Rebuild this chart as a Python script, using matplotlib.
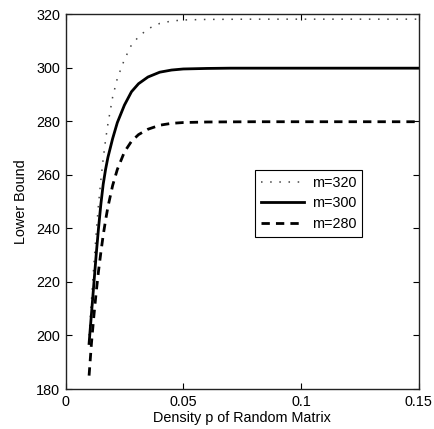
import matplotlib
matplotlib.use("Agg")
import matplotlib.pyplot as plt
import numpy as np

plt.rcParams['font.family'] = ['Liberation Sans', 'DejaVu Sans']

p320 = [0.010, 0.011, 0.012, 0.013, 0.014, 0.015, 0.016, 0.017, 0.018, 0.019, 0.020, 0.022, 0.025, 0.028, 0.031, 0.035, 0.040, 0.045, 0.050, 0.060, 0.080, 0.100, 0.150]
v320 = [200, 213, 226, 238, 249, 258, 266, 273, 279, 284, 289, 296, 303, 308.5, 311.5, 314.5, 316.5, 317.4, 317.8, 318.0, 318.1, 318.1, 318.1]

p300 = [0.010, 0.011, 0.012, 0.013, 0.014, 0.015, 0.016, 0.017, 0.018, 0.020, 0.022, 0.025, 0.028, 0.031, 0.035, 0.040, 0.045, 0.050, 0.060, 0.070, 0.100, 0.150]
v300 = [197, 208, 219, 230, 240, 249, 256.5, 262, 266.5, 273.5, 279.5, 286, 291, 294, 296.5, 298.3, 299.1, 299.5, 299.7, 299.8, 299.8, 299.8]

p280 = [0.010, 0.011, 0.012, 0.013, 0.014, 0.015, 0.016, 0.017, 0.018, 0.020, 0.022, 0.025, 0.028, 0.031, 0.035, 0.040, 0.045, 0.050, 0.060, 0.080, 0.100, 0.150]
v280 = [185, 197, 207, 216, 224, 231, 237.5, 243, 248, 256, 262, 268.5, 272.5, 275, 277, 278.5, 279.2, 279.5, 279.7, 279.8, 279.8, 279.8]

xticks = [0, 0.05, 0.1, 0.15]
xticklabels = ['0', '0.05', '0.1', '0.15']
yticks = [180, 200, 220, 240, 260, 280, 300, 320]

fs = 10.4

fig = plt.figure(figsize=(4.34, 4.29), dpi=100)
ax = fig.add_axes([0.151, 0.0932, 0.814, 0.874])

ax.plot(p320, v320, color='#444444', lw=1.1, linestyle=(0, (1, 5)), label='m=320')
ax.plot(p300, v300, color='black', lw=2.0, linestyle='-', label='m=300')
ax.plot(p280, v280, color='black', lw=2.0, linestyle=(0, (3, 2.2)), label='m=280')

ax.set_xlim(0, 0.15)
ax.set_ylim(180, 320)
ax.set_xticks(xticks)
ax.set_xticklabels(xticklabels)
ax.set_yticks(yticks)
ax.tick_params(direction='in', length=4, width=0.8, top=True, right=True, labelsize=fs, colors='black', pad=4)
for s in ax.spines.values():
    s.set_linewidth(1.0)
    s.set_color('#222222')

ax.set_xlabel('Density p of Random Matrix', fontsize=fs, labelpad=2)
ax.set_ylabel('Lower Bound', fontsize=fs, labelpad=6)

leg = ax.legend(loc='upper left', bbox_to_anchor=(0.537, 0.584), fontsize=fs,
                frameon=True, fancybox=False, edgecolor='black', framealpha=1,
                handlelength=3.0, borderpad=0.4, labelspacing=0.45, handletextpad=0.5,
                borderaxespad=0)
leg.get_frame().set_linewidth(0.8)

fig.savefig('out.png', dpi=100)
